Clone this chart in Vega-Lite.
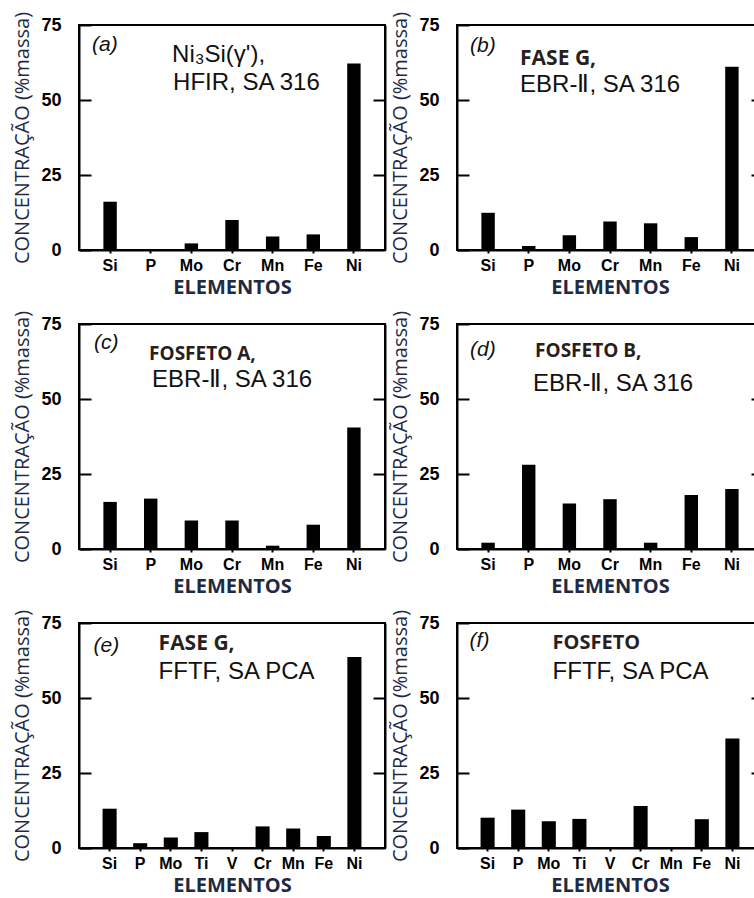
{
  "$schema": "https://vega.github.io/schema/vega-lite/v6.json",
  "padding": {"left": 11, "top": 10, "right": 0, "bottom": 0},
  "background": "white",
  "spacing": 11,
  "config": {
    "view": {"stroke": "black", "strokeWidth": 2},
    "axisX": {"titleFont": "Open Sans", "titleFontSize": 20, "titleFontWeight": "bold", "titleColor": "#1f2a44", "titlePadding": 4, "labelAngle": 0, "labelFont": "Liberation Sans", "labelFontSize": 16, "labelFontWeight": "bold", "labelColor": "black", "labelPadding": 4, "tickSize": 3, "tickColor": "black", "tickWidth": 2, "domainColor": "black", "domainWidth": 2, "grid": false},
    "axisY": {"grid": false}
  },
  "datasets": {
    "bars": [
      {"panel": "a", "el": "Si", "v": 16.1}, {"panel": "a", "el": "P", "v": 0}, {"panel": "a", "el": "Mo", "v": 2.2}, {"panel": "a", "el": "Cr", "v": 10}, {"panel": "a", "el": "Mn", "v": 4.5}, {"panel": "a", "el": "Fe", "v": 5.2}, {"panel": "a", "el": "Ni", "v": 62.2},
      {"panel": "b", "el": "Si", "v": 12.4}, {"panel": "b", "el": "P", "v": 1.3}, {"panel": "b", "el": "Mo", "v": 4.9}, {"panel": "b", "el": "Cr", "v": 9.5}, {"panel": "b", "el": "Mn", "v": 8.9}, {"panel": "b", "el": "Fe", "v": 4.3}, {"panel": "b", "el": "Ni", "v": 61.1},
      {"panel": "c", "el": "Si", "v": 15.7}, {"panel": "c", "el": "P", "v": 16.8}, {"panel": "c", "el": "Mo", "v": 9.5}, {"panel": "c", "el": "Cr", "v": 9.5}, {"panel": "c", "el": "Mn", "v": 1.1}, {"panel": "c", "el": "Fe", "v": 8.1}, {"panel": "c", "el": "Ni", "v": 40.5},
      {"panel": "d", "el": "Si", "v": 2.1}, {"panel": "d", "el": "P", "v": 28.1}, {"panel": "d", "el": "Mo", "v": 15.2}, {"panel": "d", "el": "Cr", "v": 16.6}, {"panel": "d", "el": "Mn", "v": 2.1}, {"panel": "d", "el": "Fe", "v": 18}, {"panel": "d", "el": "Ni", "v": 20},
      {"panel": "e", "el": "Si", "v": 13.1}, {"panel": "e", "el": "P", "v": 1.6}, {"panel": "e", "el": "Mo", "v": 3.5}, {"panel": "e", "el": "Ti", "v": 5.3}, {"panel": "e", "el": "V", "v": 0}, {"panel": "e", "el": "Cr", "v": 7.2}, {"panel": "e", "el": "Mn", "v": 6.5}, {"panel": "e", "el": "Fe", "v": 4.0}, {"panel": "e", "el": "Ni", "v": 63.7},
      {"panel": "f", "el": "Si", "v": 10.1}, {"panel": "f", "el": "P", "v": 12.8}, {"panel": "f", "el": "Mo", "v": 8.9}, {"panel": "f", "el": "Ti", "v": 9.7}, {"panel": "f", "el": "V", "v": 0}, {"panel": "f", "el": "Cr", "v": 14}, {"panel": "f", "el": "Mn", "v": 0}, {"panel": "f", "el": "Fe", "v": 9.6}, {"panel": "f", "el": "Ni", "v": 36.5}
    ],
    "labels": [
      {"panel": "a", "tag": "(a)", "l1": "Ni₃Si(γ'),", "l2": "HFIR, SA 316"},
      {"panel": "b", "tag": "(b)", "l1": "FASE G,", "l2": "EBR-Ⅱ, SA 316"},
      {"panel": "c", "tag": "(c)", "l1": "FOSFETO A,", "l2": "EBR-Ⅱ, SA 316"},
      {"panel": "d", "tag": "(d)", "l1": "FOSFETO B,", "l2": "EBR-Ⅱ, SA 316"},
      {"panel": "e", "tag": "(e)", "l1": "FASE G,", "l2": "FFTF, SA PCA"},
      {"panel": "f", "tag": "(f)", "l1": "FOSFETO", "l2": "FFTF, SA PCA"}
    ]
  },
  "vconcat": [
    {"spacing": 2, "hconcat": [
      {"width": 306, "height": 225,
       "layer": [
        {"data": {"name": "bars"}, "transform": [{"filter": "datum.panel === 'a'"}],
         "mark": {"type": "bar", "color": "black"},
         "encoding": {
          "x": {"field": "el", "type": "nominal", "scale": {"domain": ["Si","P","Mo","Cr","Mn","Fe","Ni"], "paddingInner": 0.67, "paddingOuter": 0.6}, "axis": {"title": "ELEMENTOS"}},
          "y": {"field": "v", "type": "quantitative", "scale": {"domain": [0, 75], "nice": false}, "axis": {"values": [0,25,50,75], "tickSize": -12, "tickWidth": 2, "tickColor": "black", "domainColor": "black", "domainWidth": 2, "labelFont": "Liberation Sans", "labelFontSize": 18, "labelFontWeight": "bold", "labelColor": "black", "labelPadding": 30, "title": "CONCENTRAÇÃO (%massa)", "titleFont": "Open Sans", "titleFontSize": 20, "titleFontWeight": "normal", "titleColor": "#1f2a44", "titlePadding": 8}}
         }},
        {"mark": {"type": "rule", "color": "black", "strokeWidth": 2},
         "encoding": {"y": {"datum": 0, "type": "quantitative", "axis": {"orient": "right", "values": [25, 50], "tickSize": -12, "tickWidth": 2, "tickColor": "black", "labels": false, "title": null, "domainColor": "black", "domainWidth": 2}}}},
        {"data": {"name": "labels"}, "transform": [{"filter": "datum.panel === 'a'"}],
         "mark": {"type": "text", "align": "left", "baseline": "alphabetic", "dx": -18, "font": "Liberation Sans", "fontStyle": "italic", "fontSize": 21, "color": "#111"},
         "encoding": {"x": {"datum": "Si", "type": "nominal"}, "y": {"datum": 66.5, "type": "quantitative", "axis": null}, "text": {"field": "tag"}}},
        {"data": {"name": "labels"}, "transform": [{"filter": "datum.panel === 'a'"}],
         "mark": {"type": "text", "align": "left", "baseline": "alphabetic", "dx": 62, "font": "Liberation Sans", "fontSize": 24, "color": "#111"},
         "encoding": {"x": {"datum": "Si", "type": "nominal"}, "y": {"datum": 62.7, "type": "quantitative", "axis": null}, "text": {"field": "l1"}}},
        {"data": {"name": "labels"}, "transform": [{"filter": "datum.panel === 'a'"}],
         "mark": {"type": "text", "align": "left", "baseline": "alphabetic", "dx": 63, "font": "Liberation Sans", "fontSize": 24, "color": "#111"},
         "encoding": {"x": {"datum": "Si", "type": "nominal"}, "y": {"datum": 53.4, "type": "quantitative", "axis": null}, "text": {"field": "l2"}}}
       ],
       "resolve": {"axis": {"y": "independent"}}},
      {"width": 306, "height": 225,
       "layer": [
        {"data": {"name": "bars"}, "transform": [{"filter": "datum.panel === 'b'"}],
         "mark": {"type": "bar", "color": "black"},
         "encoding": {
          "x": {"field": "el", "type": "nominal", "scale": {"domain": ["Si","P","Mo","Cr","Mn","Fe","Ni"], "paddingInner": 0.67, "paddingOuter": 0.6}, "axis": {"title": "ELEMENTOS"}},
          "y": {"field": "v", "type": "quantitative", "scale": {"domain": [0, 75], "nice": false}, "axis": {"values": [0,25,50,75], "tickSize": -12, "tickWidth": 2, "tickColor": "black", "domainColor": "black", "domainWidth": 2, "labelFont": "Liberation Sans", "labelFontSize": 18, "labelFontWeight": "bold", "labelColor": "black", "labelPadding": 30, "title": "CONCENTRAÇÃO (%massa)", "titleFont": "Open Sans", "titleFontSize": 20, "titleFontWeight": "normal", "titleColor": "#1f2a44", "titlePadding": 8}}
         }},
        {"mark": {"type": "rule", "color": "black", "strokeWidth": 2},
         "encoding": {"y": {"datum": 0, "type": "quantitative", "axis": {"orient": "right", "values": [25, 50], "tickSize": -12, "tickWidth": 2, "tickColor": "black", "labels": false, "title": null, "domainColor": "black", "domainWidth": 2}}}},
        {"data": {"name": "labels"}, "transform": [{"filter": "datum.panel === 'b'"}],
         "mark": {"type": "text", "align": "left", "baseline": "alphabetic", "dx": -18, "font": "Liberation Sans", "fontStyle": "italic", "fontSize": 21, "color": "#111"},
         "encoding": {"x": {"datum": "Si", "type": "nominal"}, "y": {"datum": 66, "type": "quantitative", "axis": null}, "text": {"field": "tag"}}},
        {"data": {"name": "labels"}, "transform": [{"filter": "datum.panel === 'b'"}],
         "mark": {"type": "text", "align": "left", "baseline": "alphabetic", "dx": 32, "font": "Open Sans", "fontWeight": "bold", "fontSize": 21, "color": "#2a1f1f"},
         "encoding": {"x": {"datum": "Si", "type": "nominal"}, "y": {"datum": 61.7, "type": "quantitative", "axis": null}, "text": {"field": "l1"}}},
        {"data": {"name": "labels"}, "transform": [{"filter": "datum.panel === 'b'"}],
         "mark": {"type": "text", "align": "left", "baseline": "alphabetic", "dx": 32, "font": "Liberation Sans", "fontSize": 24, "color": "#111"},
         "encoding": {"x": {"datum": "Si", "type": "nominal"}, "y": {"datum": 52.8, "type": "quantitative", "axis": null}, "text": {"field": "l2"}}}
       ],
       "resolve": {"axis": {"y": "independent"}}}
    ]},
    {"spacing": 2, "hconcat": [
      {"width": 306, "height": 225,
       "layer": [
        {"data": {"name": "bars"}, "transform": [{"filter": "datum.panel === 'c'"}],
         "mark": {"type": "bar", "color": "black"},
         "encoding": {
          "x": {"field": "el", "type": "nominal", "scale": {"domain": ["Si","P","Mo","Cr","Mn","Fe","Ni"], "paddingInner": 0.67, "paddingOuter": 0.6}, "axis": {"title": "ELEMENTOS"}},
          "y": {"field": "v", "type": "quantitative", "scale": {"domain": [0, 75], "nice": false}, "axis": {"values": [0,25,50,75], "tickSize": -12, "tickWidth": 2, "tickColor": "black", "domainColor": "black", "domainWidth": 2, "labelFont": "Liberation Sans", "labelFontSize": 18, "labelFontWeight": "bold", "labelColor": "black", "labelPadding": 30, "title": "CONCENTRAÇÃO (%massa)", "titleFont": "Open Sans", "titleFontSize": 20, "titleFontWeight": "normal", "titleColor": "#1f2a44", "titlePadding": 8}}
         }},
        {"mark": {"type": "rule", "color": "black", "strokeWidth": 2},
         "encoding": {"y": {"datum": 0, "type": "quantitative", "axis": {"orient": "right", "values": [25, 50], "tickSize": -12, "tickWidth": 2, "tickColor": "black", "labels": false, "title": null, "domainColor": "black", "domainWidth": 2}}}},
        {"data": {"name": "labels"}, "transform": [{"filter": "datum.panel === 'c'"}],
         "mark": {"type": "text", "align": "left", "baseline": "alphabetic", "dx": -16, "font": "Liberation Sans", "fontStyle": "italic", "fontSize": 21, "color": "#111"},
         "encoding": {"x": {"datum": "Si", "type": "nominal"}, "y": {"datum": 66.6, "type": "quantitative", "axis": null}, "text": {"field": "tag"}}},
        {"data": {"name": "labels"}, "transform": [{"filter": "datum.panel === 'c'"}],
         "mark": {"type": "text", "align": "left", "baseline": "alphabetic", "dx": 39, "font": "Open Sans", "fontWeight": "bold", "fontSize": 19, "color": "#2a1f1f"},
         "encoding": {"x": {"datum": "Si", "type": "nominal"}, "y": {"datum": 63, "type": "quantitative", "axis": null}, "text": {"field": "l1"}}},
        {"data": {"name": "labels"}, "transform": [{"filter": "datum.panel === 'c'"}],
         "mark": {"type": "text", "align": "left", "baseline": "alphabetic", "dx": 42, "font": "Liberation Sans", "fontSize": 24, "color": "#111"},
         "encoding": {"x": {"datum": "Si", "type": "nominal"}, "y": {"datum": 54, "type": "quantitative", "axis": null}, "text": {"field": "l2"}}}
       ],
       "resolve": {"axis": {"y": "independent"}}},
      {"width": 306, "height": 225,
       "layer": [
        {"data": {"name": "bars"}, "transform": [{"filter": "datum.panel === 'd'"}],
         "mark": {"type": "bar", "color": "black"},
         "encoding": {
          "x": {"field": "el", "type": "nominal", "scale": {"domain": ["Si","P","Mo","Cr","Mn","Fe","Ni"], "paddingInner": 0.67, "paddingOuter": 0.6}, "axis": {"title": "ELEMENTOS"}},
          "y": {"field": "v", "type": "quantitative", "scale": {"domain": [0, 75], "nice": false}, "axis": {"values": [0,25,50,75], "tickSize": -12, "tickWidth": 2, "tickColor": "black", "domainColor": "black", "domainWidth": 2, "labelFont": "Liberation Sans", "labelFontSize": 18, "labelFontWeight": "bold", "labelColor": "black", "labelPadding": 30, "title": "CONCENTRAÇÃO (%massa)", "titleFont": "Open Sans", "titleFontSize": 20, "titleFontWeight": "normal", "titleColor": "#1f2a44", "titlePadding": 8}}
         }},
        {"mark": {"type": "rule", "color": "black", "strokeWidth": 2},
         "encoding": {"y": {"datum": 0, "type": "quantitative", "axis": {"orient": "right", "values": [25, 50], "tickSize": -12, "tickWidth": 2, "tickColor": "black", "labels": false, "title": null, "domainColor": "black", "domainWidth": 2}}}},
        {"data": {"name": "labels"}, "transform": [{"filter": "datum.panel === 'd'"}],
         "mark": {"type": "text", "align": "left", "baseline": "alphabetic", "dx": -18, "font": "Liberation Sans", "fontStyle": "italic", "fontSize": 21, "color": "#111"},
         "encoding": {"x": {"datum": "Si", "type": "nominal"}, "y": {"datum": 64.5, "type": "quantitative", "axis": null}, "text": {"field": "tag"}}},
        {"data": {"name": "labels"}, "transform": [{"filter": "datum.panel === 'd'"}],
         "mark": {"type": "text", "align": "left", "baseline": "alphabetic", "dx": 47, "font": "Open Sans", "fontWeight": "bold", "fontSize": 19, "color": "#2a1f1f"},
         "encoding": {"x": {"datum": "Si", "type": "nominal"}, "y": {"datum": 64, "type": "quantitative", "axis": null}, "text": {"field": "l1"}}},
        {"data": {"name": "labels"}, "transform": [{"filter": "datum.panel === 'd'"}],
         "mark": {"type": "text", "align": "left", "baseline": "alphabetic", "dx": 45, "font": "Liberation Sans", "fontSize": 24, "color": "#111"},
         "encoding": {"x": {"datum": "Si", "type": "nominal"}, "y": {"datum": 52.6, "type": "quantitative", "axis": null}, "text": {"field": "l2"}}}
       ],
       "resolve": {"axis": {"y": "independent"}}}
    ]},
    {"spacing": 2, "hconcat": [
      {"width": 306, "height": 225,
       "layer": [
        {"data": {"name": "bars"}, "transform": [{"filter": "datum.panel === 'e'"}],
         "mark": {"type": "bar", "color": "black"},
         "encoding": {
          "x": {"field": "el", "type": "nominal", "scale": {"domain": ["Si","P","Mo","Ti","V","Cr","Mn","Fe","Ni"], "paddingInner": 0.54, "paddingOuter": 0.77}, "axis": {"title": "ELEMENTOS"}},
          "y": {"field": "v", "type": "quantitative", "scale": {"domain": [0, 75], "nice": false}, "axis": {"values": [0,25,50,75], "tickSize": -12, "tickWidth": 2, "tickColor": "black", "domainColor": "black", "domainWidth": 2, "labelFont": "Liberation Sans", "labelFontSize": 18, "labelFontWeight": "bold", "labelColor": "black", "labelPadding": 30, "title": "CONCENTRAÇÃO (%massa)", "titleFont": "Open Sans", "titleFontSize": 20, "titleFontWeight": "normal", "titleColor": "#1f2a44", "titlePadding": 8}}
         }},
        {"mark": {"type": "rule", "color": "black", "strokeWidth": 2},
         "encoding": {"y": {"datum": 0, "type": "quantitative", "axis": {"orient": "right", "values": [25, 50], "tickSize": -12, "tickWidth": 2, "tickColor": "black", "labels": false, "title": null, "domainColor": "black", "domainWidth": 2}}}},
        {"data": {"name": "labels"}, "transform": [{"filter": "datum.panel === 'e'"}],
         "mark": {"type": "text", "align": "left", "baseline": "alphabetic", "dx": -16, "font": "Liberation Sans", "fontStyle": "italic", "fontSize": 21, "color": "#111"},
         "encoding": {"x": {"datum": "Si", "type": "nominal"}, "y": {"datum": 65.3, "type": "quantitative", "axis": null}, "text": {"field": "tag"}}},
        {"data": {"name": "labels"}, "transform": [{"filter": "datum.panel === 'e'"}],
         "mark": {"type": "text", "align": "left", "baseline": "alphabetic", "dx": 49, "font": "Open Sans", "fontWeight": "bold", "fontSize": 21, "color": "#2a1f1f"},
         "encoding": {"x": {"datum": "Si", "type": "nominal"}, "y": {"datum": 66, "type": "quantitative", "axis": null}, "text": {"field": "l1"}}},
        {"data": {"name": "labels"}, "transform": [{"filter": "datum.panel === 'e'"}],
         "mark": {"type": "text", "align": "left", "baseline": "alphabetic", "dx": 49, "font": "Liberation Sans", "fontSize": 24, "color": "#111"},
         "encoding": {"x": {"datum": "Si", "type": "nominal"}, "y": {"datum": 56.4, "type": "quantitative", "axis": null}, "text": {"field": "l2"}}}
       ],
       "resolve": {"axis": {"y": "independent"}}},
      {"width": 306, "height": 225,
       "layer": [
        {"data": {"name": "bars"}, "transform": [{"filter": "datum.panel === 'f'"}],
         "mark": {"type": "bar", "color": "black"},
         "encoding": {
          "x": {"field": "el", "type": "nominal", "scale": {"domain": ["Si","P","Mo","Ti","V","Cr","Mn","Fe","Ni"], "paddingInner": 0.54, "paddingOuter": 0.77}, "axis": {"title": "ELEMENTOS"}},
          "y": {"field": "v", "type": "quantitative", "scale": {"domain": [0, 75], "nice": false}, "axis": {"values": [0,25,50,75], "tickSize": -12, "tickWidth": 2, "tickColor": "black", "domainColor": "black", "domainWidth": 2, "labelFont": "Liberation Sans", "labelFontSize": 18, "labelFontWeight": "bold", "labelColor": "black", "labelPadding": 30, "title": "CONCENTRAÇÃO (%massa)", "titleFont": "Open Sans", "titleFontSize": 20, "titleFontWeight": "normal", "titleColor": "#1f2a44", "titlePadding": 8}}
         }},
        {"mark": {"type": "rule", "color": "black", "strokeWidth": 2},
         "encoding": {"y": {"datum": 0, "type": "quantitative", "axis": {"orient": "right", "values": [25, 50], "tickSize": -12, "tickWidth": 2, "tickColor": "black", "labels": false, "title": null, "domainColor": "black", "domainWidth": 2}}}},
        {"data": {"name": "labels"}, "transform": [{"filter": "datum.panel === 'f'"}],
         "mark": {"type": "text", "align": "left", "baseline": "alphabetic", "dx": -18, "font": "Liberation Sans", "fontStyle": "italic", "fontSize": 21, "color": "#111"},
         "encoding": {"x": {"datum": "Si", "type": "nominal"}, "y": {"datum": 67, "type": "quantitative", "axis": null}, "text": {"field": "tag"}}},
        {"data": {"name": "labels"}, "transform": [{"filter": "datum.panel === 'f'"}],
         "mark": {"type": "text", "align": "left", "baseline": "alphabetic", "dx": 65, "font": "Open Sans", "fontWeight": "bold", "fontSize": 20, "color": "#2a1f1f"},
         "encoding": {"x": {"datum": "Si", "type": "nominal"}, "y": {"datum": 66.3, "type": "quantitative", "axis": null}, "text": {"field": "l1"}}},
        {"data": {"name": "labels"}, "transform": [{"filter": "datum.panel === 'f'"}],
         "mark": {"type": "text", "align": "left", "baseline": "alphabetic", "dx": 65, "font": "Liberation Sans", "fontSize": 24, "color": "#111"},
         "encoding": {"x": {"datum": "Si", "type": "nominal"}, "y": {"datum": 56.4, "type": "quantitative", "axis": null}, "text": {"field": "l2"}}}
       ],
       "resolve": {"axis": {"y": "independent"}}}
    ]}
  ]
}
